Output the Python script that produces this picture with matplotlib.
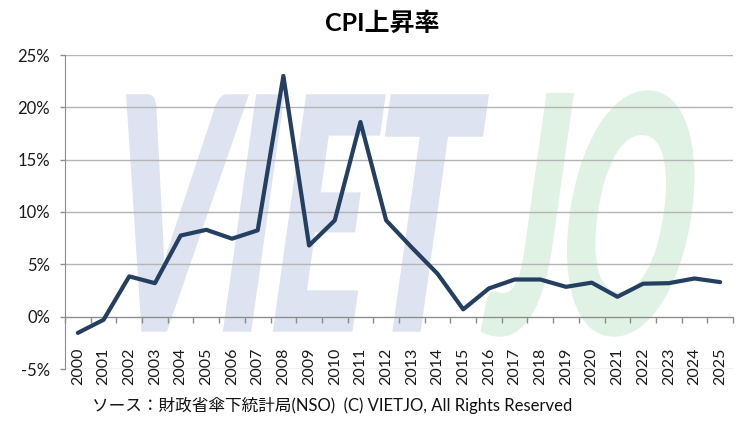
import numpy as np
import matplotlib
matplotlib.use("Agg")
import matplotlib.pyplot as plt
from matplotlib.font_manager import FontProperties
from matplotlib.textpath import TextPath
from matplotlib.patches import PathPatch
from matplotlib.transforms import Affine2D
from matplotlib.ticker import FixedLocator, FuncFormatter

# data (CPI, % year on year)
years = [str(y) for y in range(2000, 2026)]
cpi = [-1.55, -0.3, 3.85, 3.2, 7.75, 8.3, 7.45, 8.25, 23.0, 6.8, 9.2, 18.6,
       9.2, 6.6, 4.1, 0.7, 2.7, 3.55, 3.55, 2.85, 3.25, 1.9, 3.15, 3.2,
       3.65, 3.3]
y_ticks = [-5, 0, 5, 10, 15, 20, 25]

title = "CPI上昇率"
source = "ソース：財政省傘下統計局(NSO)  (C) VIETJO, All Rights Reserved"

plt.rcParams['font.family'] = ['Lato', 'Noto Sans CJK JP', 'DejaVu Sans']

W, H, DPI = 751, 421, 100
fig = plt.figure(figsize=(W / DPI, H / DPI), dpi=DPI)
ax = fig.add_axes([65 / W, 52 / H, 668 / W, 314 / H])

line_col = '#243f60'
axis_col = '#8c8c8c'
grid_col = '#b4b4b4'


def add_watermark(ax, text, box, color, slant_deg=8):
    """Draw a big slanted word behind the data, box = (x0, y0, x1, y1) in image pixels."""
    fp = FontProperties(family=['Lato', 'DejaVu Sans'], weight='black')
    path = TextPath((0, 0), text, size=100, prop=fp)
    ext = path.get_extents()
    x0, y0, x1, y1 = box
    h = y1 - y0
    slant = np.tan(np.radians(slant_deg))
    w = (x1 - x0) - h * slant
    tr = (Affine2D().translate(-ext.x0, -ext.y0)
          .scale(w / ext.width, h / ext.height)
          .skew(np.radians(slant_deg), 0)
          .translate(x0, H - y1))
    ax.add_patch(PathPatch(path, transform=tr, facecolor=color,
                           edgecolor=color, lw=2.5, zorder=0.2))


add_watermark(ax, "VIET", (95, 96, 487, 330), '#dde3f0')
add_watermark(ax, "JO", (482, 92, 707, 335), '#e0f2e4')

x = np.arange(len(years))
ax.plot(x, cpi, color=line_col, lw=3, solid_joinstyle='round',
        solid_capstyle='round', zorder=3)

ax.set_xlim(-0.5, len(years) - 0.5)
ax.set_ylim(-5, 25)

# y axis
ax.yaxis.set_major_locator(FixedLocator(y_ticks))
ax.yaxis.set_major_formatter(FuncFormatter(lambda v, p: f"{v:.0f}%"))
ax.tick_params(axis='y', direction='out', length=3.6, width=1, color=axis_col,
               pad=7, labelsize=12, labelcolor='#1a1a1a')
ax.yaxis.grid(True, color=grid_col, lw=1)
ax.set_axisbelow(True)

# x axis sits on the 0% line, labels stay low
ax.spines['bottom'].set_position(('data', 0))
ax.spines['bottom'].set_color(axis_col)
ax.spines['left'].set_color(axis_col)
ax.spines['top'].set_visible(False)
ax.spines['right'].set_visible(False)

ax.set_xticks(x)
ax.set_xticklabels(years, rotation=90)
ax.set_xticks(np.arange(-0.5, len(years)), minor=True)
ax.tick_params(axis='x', which='major', length=0, pad=22.5, labelsize=11.5,
               labelcolor='#1a1a1a')
ax.tick_params(axis='x', which='minor', direction='out', length=4.3, width=1,
               color=axis_col)

fig.text(382.5 / W, 1 - 23 / H, title, ha='center', va='center',
         fontsize=18, fontweight='bold')
fig.text(92 / W, 1 - 405 / H, source, ha='left', va='center', fontsize=12,
         color='#111111')

fig.savefig("out.png", dpi=DPI)
